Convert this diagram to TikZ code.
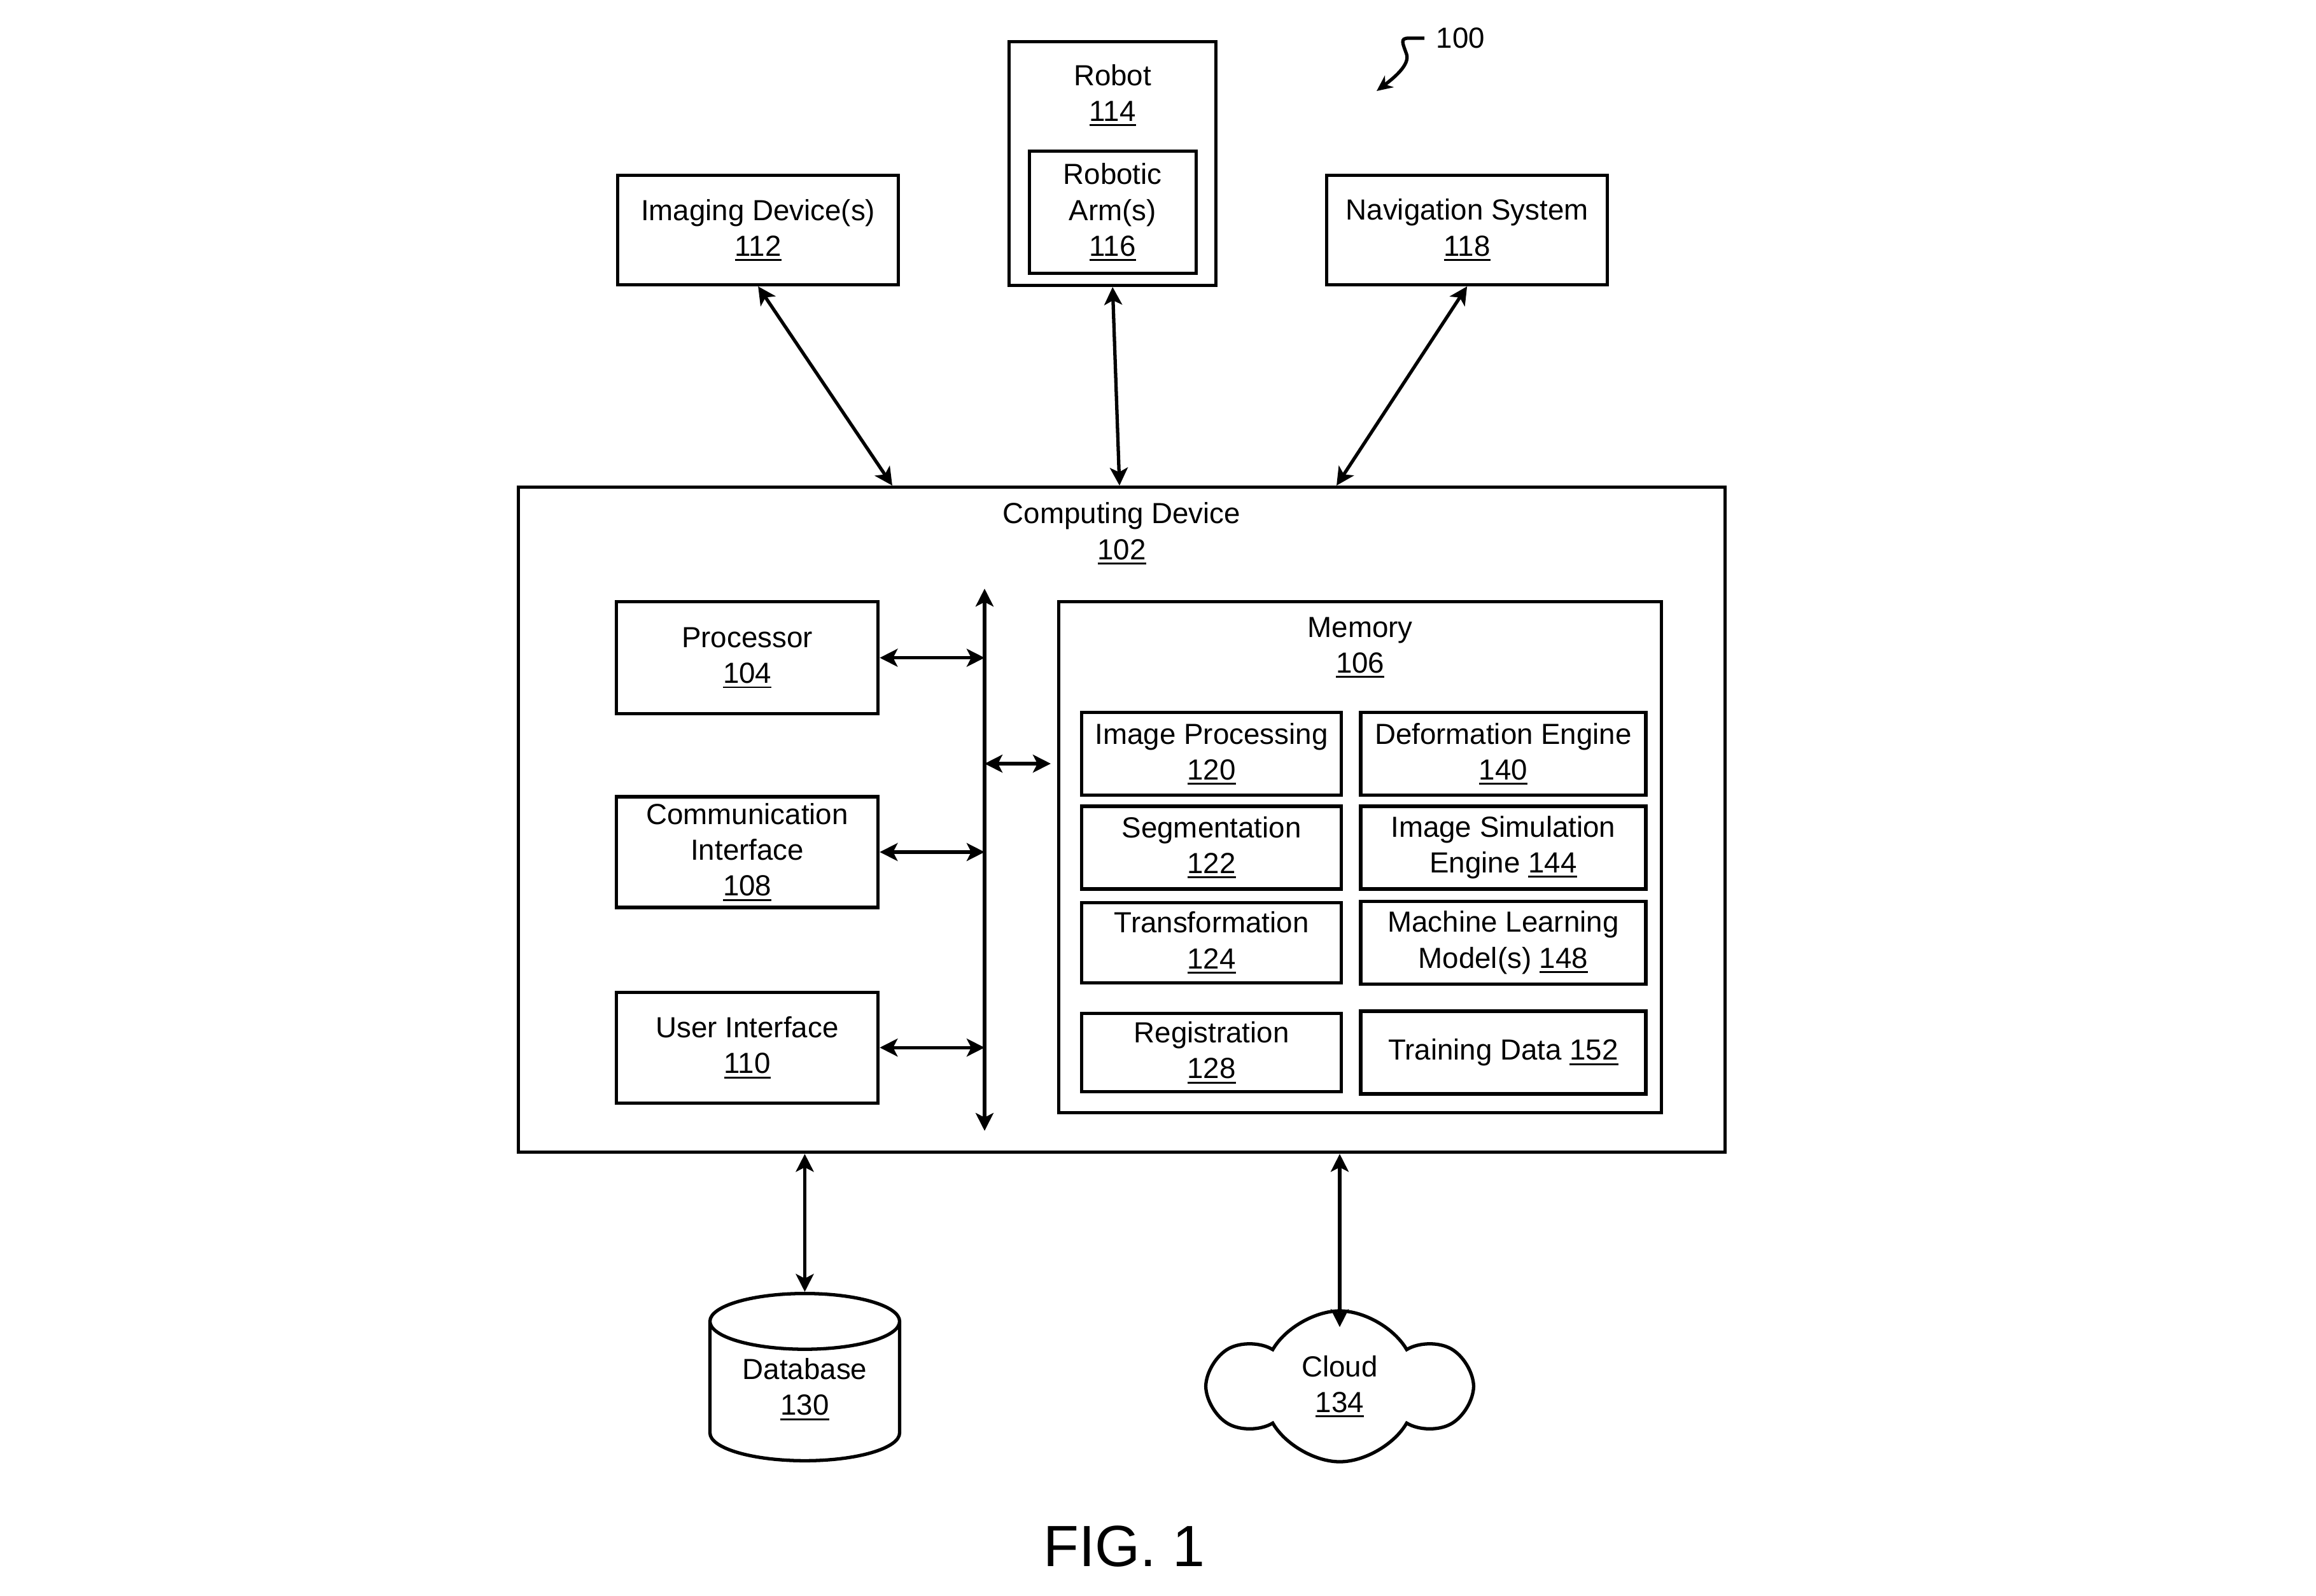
\documentclass[tikz,border=0pt]{standalone}
\usepackage{fontspec}
\setmainfont{Liberation Sans}
\usetikzlibrary{arrows.meta, positioning, shapes.geometric, shapes.symbols, calc}

\newcommand{\refnum}[1]{\leavevmode\vtop{\hbox{#1}\kern1.3pt\hrule height 0.8pt}}

\begin{document}
\begin{tikzpicture}[
        block/.style={rectangle, draw, line width=1.5pt, align=center, inner sep=2pt, font=\fontsize{13}{16}\selectfont},
        title/.style={align=center, inner sep=0pt, font=\fontsize{13}{16}\selectfont},
        >={Stealth[length=2.8mm, width=2.8mm, inset=0.7mm]},
        link/.style={<->, line width=1.5pt},
        node distance=1cm and 1cm
    ]
    \useasboundingbox (0,0) rectangle (36.39,-25.07);

    % computing device
    \node[block, minimum width=18.96cm, minimum height=10.45cm, anchor=north west] (comp) at (8.12,-7.63) {};
    \node[title, below=0.26cm of comp.north] (comptitle) {Computing Device\\\refnum{102}};

    % peripherals on top
    \node[block, minimum width=4.41cm, minimum height=1.72cm, above right=3.13cm and 1.56cm of comp.north west] (imaging) {Imaging Device(s)\\\refnum{112}};
    \node[block, minimum width=3.25cm, minimum height=3.83cm, above right=3.12cm and 7.71cm of comp.north west] (robot) {};
    \node[title, below=0.38cm of robot.north] (robottitle) {Robot\\\refnum{114}};
    \node[block, minimum width=2.62cm, minimum height=1.92cm, above=0.19cm of robot.south] (arm) {Robotic\\Arm(s)\\\refnum{116}};
    \node[block, minimum width=4.41cm, minimum height=1.72cm, above right=3.13cm and 12.70cm of comp.north west] (nav) {Navigation System\\\refnum{118}};

    % left column
    \node[block, minimum width=4.11cm, minimum height=1.76cm, below right=1.80cm and 1.54cm of comp.north west] (proc) {Processor\\\refnum{104}};
    \node[block, minimum width=4.11cm, minimum height=1.74cm, below=1.25cm of proc] (comm) {Communication\\Interface\\\refnum{108}};
    \node[block, minimum width=4.11cm, minimum height=1.74cm, below=1.28cm of comm] (ui) {User Interface\\\refnum{110}};

    % bus
    \coordinate (bustop) at ([xshift=7.35cm, yshift=-1.62cm]comp.north west);
    \coordinate (busbot) at ([xshift=7.35cm, yshift=-10.14cm]comp.north west);

    % memory
    \node[block, minimum width=9.47cm, minimum height=8.03cm, below right=1.80cm and 8.49cm of comp.north west] (mem) {};
    \node[title, below=0.26cm of mem.north] (memtitle) {Memory\\\refnum{106}};
    \coordinate (busmem) at ([yshift=-2.57cm]mem.north west);

    \node[block, minimum width=4.08cm, minimum height=1.30cm, below right=1.74cm and 0.36cm of mem.north west] (imgproc) {Image Processing\\\refnum{120}};
    \node[block, minimum width=4.08cm, minimum height=1.30cm, below=0.12cm of imgproc] (seg) {Segmentation\\\refnum{122}};
    \node[block, minimum width=4.08cm, minimum height=1.26cm, below=0.16cm of seg] (trans) {Transformation\\\refnum{124}};
    \node[block, minimum width=4.08cm, minimum height=1.23cm, below=0.43cm of trans] (reg) {Registration\\\refnum{128}};

    \node[block, minimum width=4.48cm, minimum height=1.30cm, right=0.25cm of imgproc] (deform) {Deformation Engine\\\refnum{140}};
    \node[block, minimum width=4.48cm, minimum height=1.30cm, right=0.25cm of seg] (imgsim) {Image Simulation\\Engine \refnum{144}};
    \node[block, minimum width=4.48cm, minimum height=1.30cm, right=0.25cm of trans] (mlmodel) {Machine Learning\\Model(s) \refnum{148}};
    \node[block, minimum width=4.48cm, minimum height=1.30cm, right=0.25cm of reg] (train) {Training Data \refnum{152}};

    % storage
    \node[cylinder, shape border rotate=90, draw, line width=1.5pt, aspect=0.4, minimum width=2.98cm, minimum height=2.62cm, align=center, text depth=0.33cm, font=\fontsize{13}{16}\selectfont, anchor=shape center] (db) at (12.645,-21.64) {Database\\\refnum{130}};
    \node[cloud, draw, line width=1.5pt, cloud puffs=6, cloud puff arc=120, minimum width=4.03cm, minimum height=2.37cm, align=center, font=\fontsize{13}{16}\selectfont] (cloud) at (21.05,-21.785) {Cloud\\\refnum{134}};
    \coordinate (clouddip) at ([yshift=-0.28cm]cloud.north);

    % connections
    \draw[link] (imaging.south) -- ([xshift=5.90cm]comp.north west);
    \draw[link] (robot.south) -- ([xshift=9.47cm]comp.north west);
    \draw[link] (nav.south) -- ([xshift=12.88cm]comp.north west);

    \draw[link] (bustop) -- (busbot);
    \draw[link] (proc.east) -- (proc.east -| bustop);
    \draw[link] (comm.east) -- (comm.east -| bustop);
    \draw[link] (ui.east) -- (ui.east -| bustop);
    \draw[link, shorten >=0.1cm] (busmem -| bustop) -- (busmem);

    \draw[link] (db.north |- comp.south) -- (db.north);
    \draw[link] (clouddip |- comp.south) -- (clouddip);

    % reference numeral
    \node[title, inner sep=0.18cm] (refsys) at (22.95,-0.60) {100};
    \coordinate (sysarrow) at (21.63,-1.43);
    \draw[-{Stealth[length=2.5mm, width=2.3mm]}, line width=1.5pt] (refsys.west) -- ++(-0.25,0) .. controls +(-0.14,0) and (22.04,-0.68) .. (22.10,-0.85) .. controls (22.16,-1.02) and (21.88,-1.24) .. (sysarrow);

    \node[font=\fontsize{26}{30}\selectfont] (figlabel) at (17.665,-24.30) {FIG. 1};
\end{tikzpicture}
\end{document}
